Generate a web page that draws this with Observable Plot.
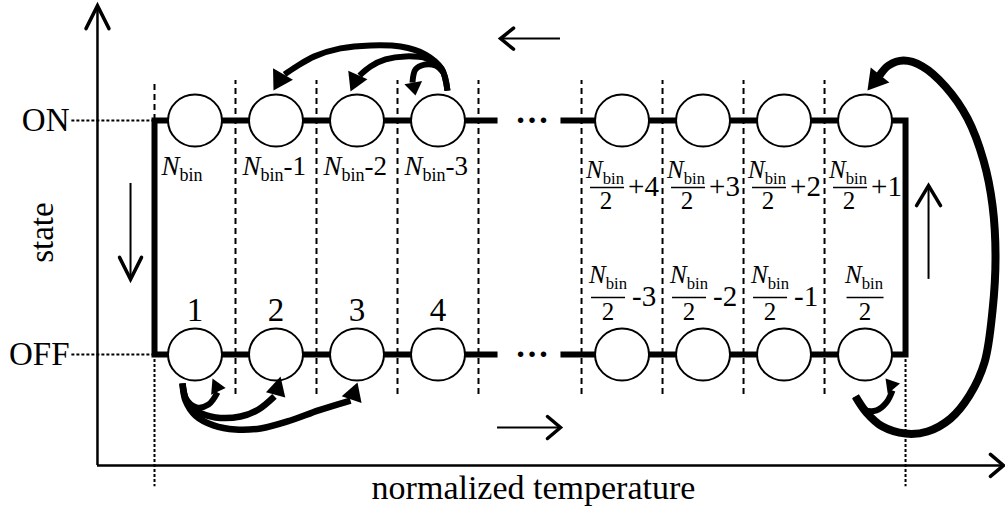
<!DOCTYPE html>
<html><head><meta charset="utf-8">
<script src="https://cdn.jsdelivr.net/npm/d3@7"></script>
<script src="https://cdn.jsdelivr.net/npm/@observablehq/plot@0.6"></script>
<style>html,body{margin:0;padding:0;background:#fff;overflow:hidden}</style>
</head><body><div id="chart"></div>
<script>
// ---------- content ----------
const states = ["OFF", "ON"];                       // y: 0 = OFF, 1 = ON
const leftOffLabels = [1, 2, 3, 4];
const leftOnLabels = ["N_{bin}", "N_{bin}-1", "N_{bin}-2", "N_{bin}-3"];
const rightOnSuffix = ["+4", "+3", "+2", "+1"];
const rightOffSuffix = ["-3", "-2", "-1", ""];
const xTitle = "normalized temperature";
const yTitle = "state";
const gapText = "…";

// ---------- layout (x in bin-slot units, y in state units) ----------
const RIGHT0 = 5.272;                 // first slot of the right group
const END = RIGHT0 + 4;               // right edge of the last bin
const leftCenters = leftOffLabels.map((_, i) => i + 0.5);
const rightCenters = rightOnSuffix.map((_, j) => RIGHT0 + j + 0.5);
const innerBounds = [1, 2, 3, 4, RIGHT0, RIGHT0 + 1, RIGHT0 + 2, RIGHT0 + 3];
const AX = -0.704, AY = -0.474, YTOP = 1.491, XRIGHT = 10.481;

// curved transition arrows (control points)
const curveA1 = [[3.617,1.128],[3.543,1.222],[3.346,1.282],[3.037,1.316],[2.667,1.321],[2.296,1.308],[1.975,1.274],[1.753,1.231],[1.605,1.197]];
const curveA2 = [[3.617,1.128],[3.543,1.222],[3.358,1.265],[3.099,1.274],[2.852,1.261],[2.667,1.231],[2.531,1.192]];
const curveA3 = [[3.568,1.205],[3.469,1.235],[3.333,1.239],[3.222,1.218],[3.185,1.162]];
const curveB1 = [[0.346,-0.124],[0.395,-0.192],[0.519,-0.226],[0.667,-0.214],[0.778,-0.162]];
const curveB2 = [[0.346,-0.124],[0.395,-0.197],[0.531,-0.244],[0.753,-0.269],[1.062,-0.265],[1.284,-0.235],[1.481,-0.179]];
const curveB3 = [[0.346,-0.124],[0.383,-0.197],[0.506,-0.261],[0.728,-0.303],[1.0,-0.321],[1.309,-0.316],[1.679,-0.282],[2.025,-0.239],[2.420,-0.197]];
const curveC = [[8.654,-0.179],[8.790,-0.248],[8.988,-0.308],[9.272,-0.338],[9.543,-0.329],[9.827,-0.274],[10.062,-0.175],[10.247,-0.034],[10.346,0.188],[10.383,0.415],[10.346,0.637],[10.235,0.829],[10.037,1.009],[9.765,1.145],[9.481,1.231],[9.247,1.256],[9.062,1.235],[8.951,1.192]];
const curveD = [[8.654,-0.179],[8.765,-0.235],[8.914,-0.239],[9.037,-0.205],[9.111,-0.154]];

const arrows = [
  {path: curveA1, tip: [1.469, 1.128], angle: -150, len: 19, wid: 23, sw: 6},
  {path: curveA2, tip: [2.420, 1.124], angle: -156, len: 18, wid: 21, sw: 6},
  {path: curveA3, tip: [3.222, 1.107], angle: 170, len: 13, wid: 18, sw: 6},
  {path: curveB1, tip: [0.716, -0.103], angle: -25, len: 14, wid: 16, sw: 6},
  {path: curveB2, tip: [1.556, -0.094], angle: 15, len: 19, wid: 20, sw: 6.5},
  {path: curveB3, tip: [2.506, -0.120], angle: 19, len: 18, wid: 21, sw: 6.5},
  {path: curveC, tip: [8.802, 1.128], angle: -141, len: 20, wid: 24, sw: 8},
  {path: curveD, tip: [9.025, -0.103], angle: -40, len: 13, wid: 16, sw: 6}
];

// ---------- custom symbols ----------
function rotPts(pts, angle) {
  const a = angle * Math.PI / 180, c = Math.cos(a), s = Math.sin(a);
  return pts.map(([x, y]) => [x * c - y * s, x * s + y * c]);
}
function headSymbol(angle, len, wid) {
  const p = rotPts([[0, 0], [-wid / 2, len], [wid / 2, len]], angle);
  return {draw(ctx) { ctx.moveTo(...p[0]); ctx.lineTo(...p[1]); ctx.lineTo(...p[2]); ctx.closePath(); }};
}
function chevron(angle, along, across) {
  const p = rotPts([[-across, along], [0, 0], [across, along]], angle);
  return {draw(ctx) { ctx.moveTo(...p[0]); ctx.lineTo(...p[1]); ctx.lineTo(...p[2]); }};
}
function ellipse(rx, ry) {
  const k = 0.5523;
  return {draw(ctx) {
    ctx.moveTo(rx, 0);
    ctx.bezierCurveTo(rx, ry * k, rx * k, ry, 0, ry);
    ctx.bezierCurveTo(-rx * k, ry, -rx, ry * k, -rx, 0);
    ctx.bezierCurveTo(-rx, -ry * k, -rx * k, -ry, 0, -ry);
    ctx.bezierCurveTo(rx * k, -ry, rx, -ry * k, rx, 0);
    ctx.closePath();
  }};
}
function hbar(w) { return {draw(ctx) { ctx.moveTo(-w / 2, 0); ctx.lineTo(w / 2, 0); }}; }

const circles = [];
for (const c of [...leftCenters, ...rightCenters]) for (const s of [0, 1]) circles.push([c, s]);

const black = "black";
const head = (pos, sym) => Plot.dot([pos], {symbol: sym, fill: "none", stroke: black, strokeWidth: 3.5, strokeLinecap: "round", strokeLinejoin: "miter"});

const marks = [
  // dotted guides
  Plot.ruleY([1, 0], {x1: -1.02, x2: 0, stroke: black, strokeWidth: 2, strokeDasharray: "3,2"}),
  Plot.ruleX([0, END], {y1: 0, y2: -0.565, stroke: black, strokeWidth: 2, strokeDasharray: "3,2"}),
  // axes
  Plot.ruleX([AX], {y1: AY, y2: YTOP - 0.004, stroke: black, strokeWidth: 2.5}),
  Plot.ruleY([AY], {x1: AX, x2: XRIGHT - 0.01, stroke: black, strokeWidth: 2.5}),
  head([AX, YTOP], chevron(0, 23, 11.5)),
  head([XRIGHT, AY], chevron(90, 13, 11)),
  // dashed bin boundaries
  Plot.ruleX(innerBounds, {y1: -0.171, y2: 1.171, stroke: black, strokeWidth: 2, strokeDasharray: "6,4"}),
  Plot.ruleX([0], {y1: 1, y2: 1.171, stroke: black, strokeWidth: 2, strokeDasharray: "6,4"}),
  // thick state lines
  Plot.line([[4.235, 1], [0, 1], [0, 0], [4.235, 0]], {stroke: black, strokeWidth: 6, strokeLinejoin: "miter", strokeLinecap: "butt", strokeMiterlimit: 10}),
  Plot.line([[5.012, 1], [END, 1], [END, 0], [5.012, 0]], {stroke: black, strokeWidth: 6, strokeLinejoin: "miter", strokeLinecap: "butt", strokeMiterlimit: 10}),
  // bins
  Plot.dot(circles, {symbol: ellipse(27, 26), fill: "white", stroke: black, strokeWidth: 2}),
  // gap dots
  Plot.text([1, 0], {x: 4.66, y: d => d, text: () => gapText, dy: 2, lineAnchor: "bottom", fontSize: 34, fontWeight: "bold", fill: black}),
  // straight direction arrows
  Plot.ruleY([1.350], {x1: 4.272, x2: 5.012, stroke: black, strokeWidth: 2}),
  head([4.272, 1.350], chevron(-90, 13, 10.5)),
  Plot.ruleY([-0.312], {x1: 4.235, x2: 5.012, stroke: black, strokeWidth: 2}),
  head([5.012, -0.312], chevron(90, 13, 11)),
  Plot.ruleX([-0.296], {y1: 0.731, y2: 0.321, stroke: black, strokeWidth: 2}),
  head([-0.296, 0.321], chevron(180, 22, 11)),
  Plot.ruleX([9.556], {y1: 0.321, y2: 0.722, stroke: black, strokeWidth: 2}),
  head([9.556, 0.722], chevron(0, 20, 12)),
];

// curved arrows
for (const a of arrows) {
  marks.push(Plot.line(a.path, {curve: "catmull-rom", stroke: black, strokeWidth: a.sw, strokeLinecap: "butt"}));
  marks.push(Plot.dot([a.tip], {symbol: headSymbol(a.angle, a.len, a.wid), fill: black, stroke: "none"}));
}

// text
marks.push(
  Plot.text(states, {x: -1.049, y: (d, i) => i, textAnchor: "end", lineAnchor: "bottom", dy: 10, fontSize: 33, fill: black}),
  Plot.text([yTitle], {x: -1.383, y: 0.521, rotate: -90, fontSize: 33, fill: black}),
  Plot.text([xTitle], {x: 4.679, y: AY, dy: 34, lineAnchor: "bottom", fontSize: 34, fill: black}),
  Plot.text(leftOffLabels, {x: (d, i) => leftCenters[i], y: 0, dy: -34, lineAnchor: "bottom", fontSize: 33, fill: black}),
  Plot.text(leftOnLabels, {x: (d, i) => i, y: 1, dx: 7, dy: 54, textAnchor: "start", lineAnchor: "bottom", fontSize: 27, fill: black}),
  // ON-side fractions  N_bin/2 + k
  Plot.text(rightOnSuffix, {x: (d, i) => rightCenters[i], y: 1, text: () => "N_{bin}", dx: -17, dy: 57, lineAnchor: "bottom", fontSize: 25, fill: black}),
  Plot.dot(rightOnSuffix, {x: (d, i) => rightCenters[i], y: 1, dx: -15, dy: 67, symbol: hbar(34), fill: "none", stroke: black, strokeWidth: 1.6}),
  Plot.text(rightOnSuffix, {x: (d, i) => rightCenters[i], y: 1, text: () => "2", dx: -16, dy: 88, lineAnchor: "bottom", fontSize: 25, fill: black}),
  Plot.text(rightOnSuffix, {x: (d, i) => rightCenters[i], y: 1, dx: 6, dy: 75, textAnchor: "start", lineAnchor: "bottom", fontSize: 29, fill: black}),
  // OFF-side fractions  N_bin/2 - k
  Plot.text(rightOffSuffix, {x: (d, i) => rightCenters[i], y: 0, filter: d => d !== "", text: () => "N_{bin}", dx: -14, dy: -72, lineAnchor: "bottom", fontSize: 25, fill: black}),
  Plot.text(rightOffSuffix, {x: (d, i) => rightCenters[i], y: 0, filter: d => d === "", text: () => "N_{bin}", dx: -1, dy: -72, lineAnchor: "bottom", fontSize: 25, fill: black}),
  Plot.dot(rightOffSuffix, {x: (d, i) => rightCenters[i], y: 0, filter: d => d !== "", dx: -14, dy: -57, symbol: hbar(34), fill: "none", stroke: black, strokeWidth: 1.6}),
  Plot.dot(rightOffSuffix, {x: (d, i) => rightCenters[i], y: 0, filter: d => d === "", dx: 0, dy: -57, symbol: hbar(37), fill: "none", stroke: black, strokeWidth: 1.6}),
  Plot.text(rightOffSuffix, {x: (d, i) => rightCenters[i], y: 0, filter: d => d !== "", text: () => "2", dx: -14, dy: -35, lineAnchor: "bottom", fontSize: 25, fill: black}),
  Plot.text(rightOffSuffix, {x: (d, i) => rightCenters[i], y: 0, filter: d => d === "", text: () => "2", dx: 0, dy: -35, lineAnchor: "bottom", fontSize: 25, fill: black}),
  Plot.text(rightOffSuffix, {x: (d, i) => rightCenters[i], y: 0, filter: d => d !== "", dx: 10, dy: -49, textAnchor: "start", lineAnchor: "bottom", fontSize: 29, fill: black})
);

const svg = Plot.plot({
  width: 1005, height: 508,
  marginTop: 0, marginRight: 0, marginBottom: 0, marginLeft: 0,
  x: {domain: [0, 4], range: [154, 478], axis: null},
  y: {domain: [0, 1], range: [354, 120], axis: null},
  style: {fontFamily: "'Liberation Serif', 'Times New Roman', serif", background: "white", color: "black", overflow: "visible"},
  marks
});

// subscript formatting for N_bin
const NS = "http://www.w3.org/2000/svg";
d3.select(svg).selectAll("text").each(function () {
  const m = /^N_\{bin\}(.*)$/.exec(this.textContent);
  if (!m) return;
  this.textContent = "";
  const a = document.createElementNS(NS, "tspan");
  a.setAttribute("font-style", "italic"); a.textContent = "N"; this.appendChild(a);
  const b = document.createElementNS(NS, "tspan");
  b.setAttribute("font-size", "0.667em"); b.setAttribute("dy", "0.36em"); b.textContent = "bin"; this.appendChild(b);
  if (m[1]) {
    const c = document.createElementNS(NS, "tspan");
    c.setAttribute("dy", "-0.24em"); c.textContent = m[1]; this.appendChild(c);
  }
});

document.getElementById("chart").appendChild(svg);
</script>
</body></html>
